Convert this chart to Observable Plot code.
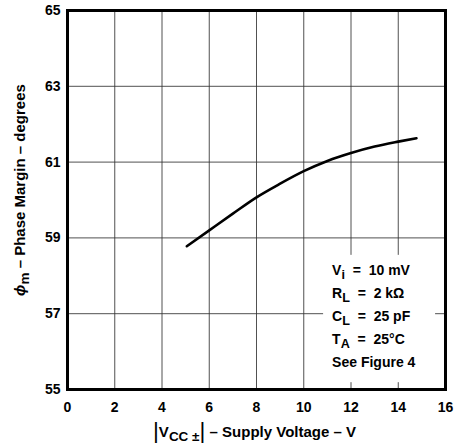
<!DOCTYPE html>
<html>
<head>
<meta charset="utf-8">
<script src="https://cdn.jsdelivr.net/npm/d3@7"></script>
<script src="https://cdn.jsdelivr.net/npm/@observablehq/plot@0.6"></script>
<style>
  html, body { margin: 0; padding: 0; background: white; }
  #chart svg text { white-space: pre; }
</style>
</head>
<body>
<div id="chart"></div>
<script>
// Supply voltage |Vcc±| (V) and phase margin (degrees)
const voltage = [5.05, 6, 7, 8, 9, 10, 11, 12, 13, 14, 14.77];
const phaseMargin = [58.78, 59.2, 59.64, 60.07, 60.43, 60.76, 61.03, 61.24, 61.41, 61.54, 61.63];

const xTicks = [0, 2, 4, 6, 8, 10, 12, 14, 16];
const yTicks = [55, 57, 59, 61, 63, 65];

// Markup: _{...} = subscript, *...* = italic, [|] = tall bar
const notes = ["V_{i}  =  10 mV", "R_{L}  =  2 kΩ", "C_{L}  =  25 pF", "T_{A}  =  25°C", "See Figure 4"];
const xLabel = "[|]V_{CC ±}[|] – Supply Voltage – V";
const yLabel = "*ϕ*_{m} – Phase Margin – degrees";

const plain = s => s.replace(/_\{([^}]*)\}/g, "$1").replace(/\*([^*]*)\*/g, "$1").replace(/\[\|\]/g, "|");

const curve = voltage.map((v, i) => ({v, p: phaseMargin[i]}));
const font = "'Liberation Sans', Arial, Helvetica, sans-serif";

const chart = Plot.plot({
  width: 463,
  height: 443,
  marginLeft: 67,
  marginRight: 18,
  marginTop: 10,
  marginBottom: 54,
  x: {domain: [0, 16], label: null},
  y: {domain: [55, 65], label: null},
  style: {fontFamily: font, fontWeight: "bold", fontSize: "14px", color: "black", background: "white"},
  marks: [
    Plot.gridX(xTicks, {stroke: "#333", strokeOpacity: 0.85, strokeWidth: 1}),
    Plot.gridY(yTicks, {stroke: "#333", strokeOpacity: 0.85, strokeWidth: 1}),
    Plot.rect([0], {x1: 10.84, x2: 15.58, y1: 55.18, y2: 58.54, fill: "white"}),
    Plot.line(curve, {x: "v", y: "p", curve: "monotone-x", stroke: "black", strokeWidth: 2.6}),
    Plot.frame({stroke: "black", strokeWidth: 3}),
    Plot.axisX(xTicks, {tickSize: 0, tickPadding: 13, fontSize: 14, fontWeight: "bold", label: null}),
    Plot.axisY(yTicks, {tickSize: 0, tickPadding: 7, fontSize: 14, fontWeight: "bold", label: null}),
    Plot.text(notes, {
      x: 11.2,
      y: (d, i) => 58.14 - i * 0.607,
      text: d => plain(d),
      textAnchor: "start",
      fontSize: 14,
      fontWeight: "bold"
    }),
    Plot.text([xLabel], {text: d => plain(d), frameAnchor: "bottom", textAnchor: "middle", lineAnchor: "middle", dy: 43, dx: -2, fontSize: 15, fontWeight: "bold"}),
    Plot.text([yLabel], {text: d => plain(d), frameAnchor: "left", textAnchor: "middle", lineAnchor: "middle", rotate: -90, dx: -47, dy: -10, fontSize: 15, fontWeight: "bold"})
  ]
});

document.getElementById("chart").appendChild(chart);

// Rich text: subscripts, italics, tall bars
const rich = new Map([...notes, xLabel, yLabel].map(s => [plain(s), s]));
d3.select(chart).selectAll("text").each(function () {
  const key = this.textContent;
  if (!rich.has(key) || key === rich.get(key)) return;
  const src = rich.get(key);
  const el = d3.select(this);
  el.text(null);
  const re = /(_\{[^}]*\}|\*[^*]*\*|\[\|\])/g;
  let last = 0, m, shift = 0;
  const add = (txt, opts = {}) => {
    const t = el.append("tspan").text(txt);
    const targetShift = opts.shift || 0;
    if (targetShift !== shift) { t.attr("dy", targetShift - shift); shift = targetShift; }
    if (opts.size) t.attr("font-size", opts.size);
    if (opts.italic) t.attr("font-style", "italic");
    if (opts.weight) t.attr("font-weight", opts.weight);
  };
  while ((m = re.exec(src))) {
    if (m.index > last) add(src.slice(last, m.index));
    const tok = m[0];
    if (tok.startsWith("_{")) add(tok.slice(2, -1), {shift: 4, size: "0.9em"});
    else if (tok.startsWith("*")) add(tok.slice(1, -1), {italic: true});
    else add("|", {shift: 1, size: "1.5em", weight: "normal"});
    last = m.index + tok.length;
  }
  if (last < src.length) add(src.slice(last));
});
</script>
</body>
</html>
